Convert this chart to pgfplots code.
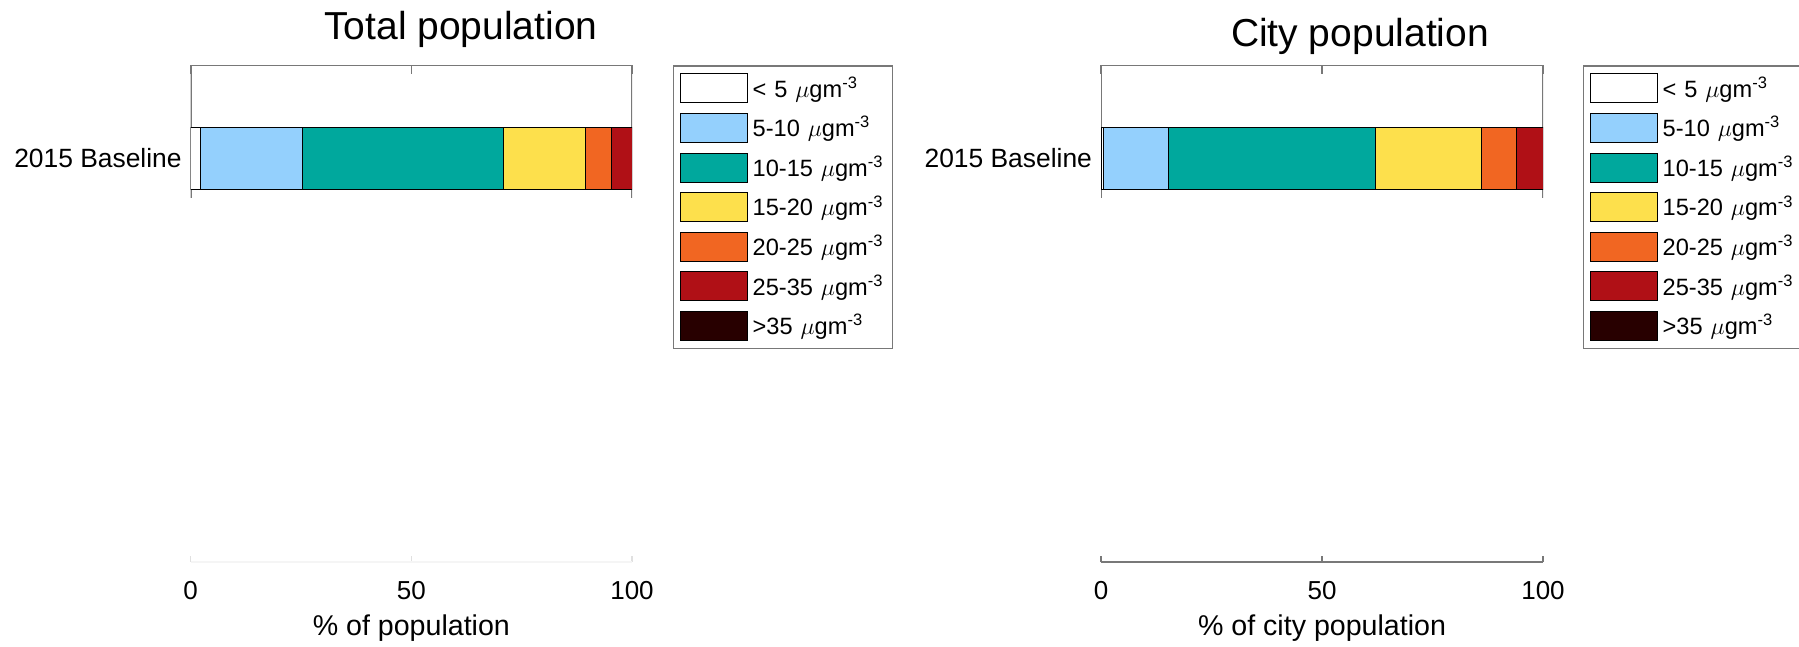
\documentclass[border=0pt]{standalone}
\usepackage{pgfplots}
\pgfplotsset{compat=1.18}
\usepackage{fontspec}
\setmainfont{Liberation Sans}

\definecolor{c1}{RGB}{255,255,255}
\definecolor{c2}{RGB}{148,208,253}
\definecolor{c3}{RGB}{0,168,157}
\definecolor{c4}{RGB}{253,224,76}
\definecolor{c5}{RGB}{241,102,34}
\definecolor{c6}{RGB}{176,16,22}
\definecolor{c7}{RGB}{40,0,0}
\definecolor{axgray}{RGB}{120,120,120}

\pgfplotsset{
 upper/.style={
   scale only axis, width=220.65pt, height=66.25pt,
   xbar stacked, bar width=31.25pt,
   xmin=0,xmax=100,ymin=0,ymax=132.5,
   axis line style={draw=none},
   xtick={0,50,100}, xticklabels={}, xtick pos=right,
   ytick={39.75}, yticklabels={2015 Baseline}, ytick pos=left,
   tick align=inside, major tick length=4pt,
   tick style={axgray, line width=0.7pt},
   yticklabel style={font=\fontsize{13.2}{15}\selectfont, xshift=-1pt},
   title style={font=\fontsize{19.5}{22}\selectfont, anchor=base},
   legend image code/.code={\draw[#1, line width=0.5pt] (0pt,-7.25pt) rectangle (33.5pt,7.25pt);},
   legend style={anchor=north west, draw=axgray, line width=0.7pt, inner xsep=3.2pt, inner ysep=3.6pt,
     row sep=4.8pt, column sep=2.3pt, font=\fontsize{11.8}{13}\selectfont,
     nodes={inner xsep=0pt, inner ysep=0pt, text width=66.8pt, align=left}},
   legend cell align=left,
   every axis plot/.append style={draw=black, line width=0.5pt},
 },
 lower/.style={
   scale only axis, width=220.65pt, height=1pt,
   xmin=0,xmax=100,ymin=0,ymax=1,
   axis x line=bottom, axis y line=none,
   xtick={0,50,100}, tick align=inside, major tick length=3pt,
   /pgf/number format/assume math mode=true,
   xticklabel style={anchor=center, yshift=-14.5pt, font=\fontsize{13}{15}\selectfont},
   xlabel style={at={(axis description cs:0.5,0)}, anchor=center, yshift=-33pt, font=\fontsize{14.3}{17}\selectfont},
 },
}

\begin{document}
\begin{tikzpicture}
\useasboundingbox (0,0) rectangle (899.5pt,-323.5pt);

% ---------- left panel ----------
\begin{axis}[upper, at={(95.35pt,-32.75pt)}, anchor=north west,
  title={Total population}, title style={at={(axis description cs:0.6125,1)}, yshift=7pt},
  legend style={at={(axis description cs:1.0929,1)}}]
\addplot[fill=c1] coordinates {(2.3,39.75)};
\addplot[fill=c2] coordinates {(23.1,39.75)};
\addplot[fill=c3] coordinates {(45.5,39.75)};
\addplot[fill=c4] coordinates {(18.5,39.75)};
\addplot[fill=c5] coordinates {(5.9,39.75)};
\addplot[fill=c6] coordinates {(4.7,39.75)};
\addplot[fill=c7] coordinates {(0,39.75)};
\legend{{< 5 $\mu$gm\textsuperscript{-3}},{5-10 $\mu$gm\textsuperscript{-3}},{10-15 $\mu$gm\textsuperscript{-3}},{15-20 $\mu$gm\textsuperscript{-3}},{20-25 $\mu$gm\textsuperscript{-3}},{25-35 $\mu$gm\textsuperscript{-3}},{>35 $\mu$gm\textsuperscript{-3}}}
\draw[axgray, line width=0.8pt] (rel axis cs:0,0) -- (rel axis cs:0,1) -- (rel axis cs:1,1) -- (rel axis cs:1,0);
\end{axis}

\begin{axis}[lower, at={(95.35pt,-281pt)}, anchor=south west,
  xlabel={\% of population},
  x axis line style={-, draw=black!4, line width=1pt}, tick style={black!12, line width=0.7pt}]
\end{axis}

% ---------- right panel ----------
\begin{axis}[upper, width=221pt, at={(550.5pt,-32.75pt)}, anchor=north west,
  title={City population}, title style={at={(axis description cs:0.586,1)}, yshift=3.5pt},
  legend style={at={(axis description cs:1.0905,1)}}]
\addplot[fill=c1] coordinates {(0.5,39.75)};
\addplot[fill=c2] coordinates {(14.8,39.75)};
\addplot[fill=c3] coordinates {(46.9,39.75)};
\addplot[fill=c4] coordinates {(23.9,39.75)};
\addplot[fill=c5] coordinates {(8.0,39.75)};
\addplot[fill=c6] coordinates {(5.9,39.75)};
\addplot[fill=c7] coordinates {(0,39.75)};
\legend{{< 5 $\mu$gm\textsuperscript{-3}},{5-10 $\mu$gm\textsuperscript{-3}},{10-15 $\mu$gm\textsuperscript{-3}},{15-20 $\mu$gm\textsuperscript{-3}},{20-25 $\mu$gm\textsuperscript{-3}},{25-35 $\mu$gm\textsuperscript{-3}},{>35 $\mu$gm\textsuperscript{-3}}}
\draw[axgray, line width=0.8pt] (rel axis cs:0,0) -- (rel axis cs:0,1) -- (rel axis cs:1,1) -- (rel axis cs:1,0);
\end{axis}

\begin{axis}[lower, width=221pt, at={(550.5pt,-281pt)}, anchor=south west,
  xlabel={\% of city population},
  x axis line style={-, draw=axgray, line width=1pt}, tick style={axgray, line width=0.7pt}]
\end{axis}
\end{tikzpicture}
\end{document}
